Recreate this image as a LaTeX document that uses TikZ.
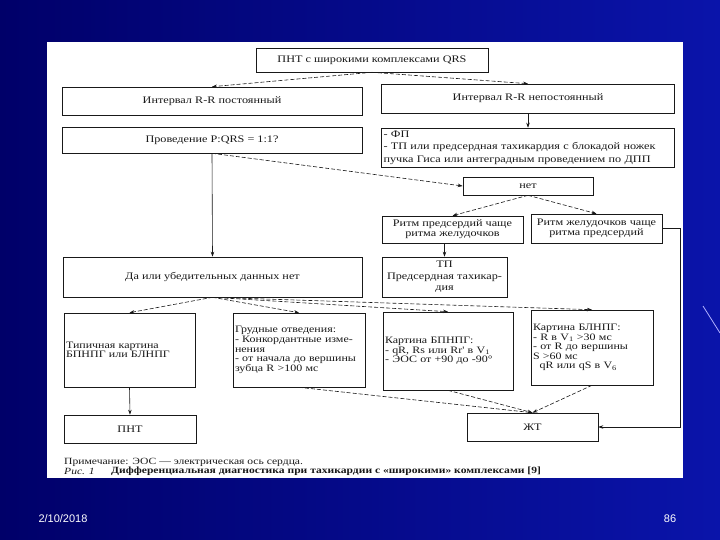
\documentclass[tikz,border=0pt]{standalone}
\usepackage{fontspec}
\setmainfont{Liberation Serif}
\newfontfamily\scanfont[FakeStretch=1.22]{Liberation Serif}
\newfontfamily\footfont{Liberation Sans}
\usetikzlibrary{arrows.meta, calc}

\definecolor{slidedark}{RGB}{0,0,105}
\definecolor{slidelight}{RGB}{10,20,170}
\definecolor{inkgray}{RGB}{25,25,25}

\begin{document}
\begin{tikzpicture}[x=1pt, y=-1pt,
    box/.style={draw=inkgray, line width=0.6pt, inner sep=2pt, text=inkgray,
      align=center, font=\scanfont\fontsize{10}{12.5}\selectfont},
    listbox/.style={box, align=left, font=\scanfont\fontsize{9.8}{9.6}\selectfont},
    dasharrow/.style={draw=inkgray, line width=0.6pt, dash pattern=on 4pt off 2pt,
      -{Stealth[length=5pt, width=3.5pt]}},
    solidarrow/.style={draw=inkgray, line width=0.6pt,
      -{Stealth[length=5pt, width=3.5pt]}},
    caption/.style={anchor=west, inner sep=0pt, text=inkgray,
      font=\scanfont\fontsize{9.5}{11}\selectfont},
    footer/.style={text=white, font=\footfont\fontsize{11}{13}\selectfont}]

      % Slide and scanned sheet
      \useasboundingbox (0,0) rectangle (720,540);
      \fill[left color=slidedark, right color=slidelight] (0,0) rectangle (720,540);
      \draw[blue!30!white, line width=0.8pt] (703,306) -- (720,333);
      \fill[white] (47,42) rectangle (683,478);

      % Boxes
      \node[box, minimum width=232pt, minimum height=24pt] (top) at (372,60)
  {ПНТ с широкими комплексами QRS};
      \node[box, minimum width=300pt, minimum height=28pt] (rrc) at (212,101)
  {Интервал R-R постоянный};
      \node[box, minimum width=293pt, minimum height=29pt] (rrn) at (528,98.5)
  {Интервал R-R непостоянный};
      \node[box, minimum width=300pt, minimum height=26pt] (prov) at (212,140)
  {Проведение P:QRS = 1:1?};
      \node[box, align=left, text width=289pt, minimum height=39pt] (fp) at
  (528,147.5) {- ФП\\- ТП или предсердная тахикардия с блокадой ножек\\пучка
  Гиса или антеградным проведением по ДПП};
      \node[box, minimum width=130pt, minimum height=18pt] (net) at (528,186)
  {нет};
      \node[box, minimum width=141pt, minimum height=27pt,
  font=\scanfont\fontsize{10}{10}\selectfont] (atr) at (452.5,229.5)
  {Ритм предсердий чаще\\ритма желудочков};
      \node[box, minimum width=131pt, minimum height=29pt,
  font=\scanfont\fontsize{10}{10}\selectfont] (vent) at (596.5,228.5)
  {Ритм желудочков чаще\\ритма предсердий};
      \node[box, minimum width=125pt, minimum height=40pt,
  font=\scanfont\fontsize{10}{11.5}\selectfont] (tp) at (444.5,277)
  {ТП\\Предсердная тахикар-\\дия};
      \node[box, minimum width=299pt, minimum height=40pt] (da) at (212.5,277)
  {Да или убедительных данных нет};
      \node[listbox, text width=127pt, minimum height=74pt] (typ) at
  (129.5,350) {Типичная картина\\БПНПГ или БЛНПГ};
      \node[listbox, text width=128pt, minimum height=74pt] (grud) at
  (299,350) {Грудные отведения:\\- Конкордантные изме-\\нения\\- от начала
  до вершины\\зубца R >100 мс};
      \node[listbox, text width=126pt, minimum height=78pt] (bpn) at
  (448,351) {Картина БПНПГ:\\- qR, Rs или Rr' в V\textsubscript{1}\\- ЭОС от
  +90 до -90°};
      \node[listbox, text width=118pt, minimum height=75pt] (bln) at
  (592,347.5) {Картина БЛНПГ:\\- R в V\textsubscript{1} >30 мс\\- от R до
  вершины\\S >60 мс\\\ \ qR или qS в V\textsubscript{6}};
      \node[box, minimum width=132pt, minimum height=28pt] (pnt) at (130,429)
  {ПНТ};
      \node[box, minimum width=131pt, minimum height=28pt] (zht) at
  (532.5,427) {ЖТ};

      % Caption
      \node[caption] (note) at (64,462)
  {Примечание: ЭОС~— электрическая ось сердца.};
      \node[caption] (figno) at (64,471) {\itshape Рис. 1};
      \node[caption] (figtext) at (111,471) {\bfseries Дифференциальная
  диагностика при тахикардии с «широкими» комплексами [9]};

      % Footer
      \node[footer] (date) at (63,519) {2/10/2018};
      \node[footer] (page) at (670,519) {86};

      % Arrows
      \draw[dasharrow] (top.south) -- (rrc.north);
      \draw[dasharrow] (top.south) -- (rrn.north);
      \draw[solidarrow] (rrn.south) -- (fp.north);
      \draw[solidarrow] (prov.south) -- (da.north);
      \draw[dasharrow] (prov.south) -- (net.west);
      \draw[dasharrow] (net.south) -- (atr.north);
      \draw[dasharrow] (net.south) -- (vent.north);
      \draw[solidarrow] (tp.north |- atr.south) -- (tp.north);
      \draw[dasharrow] (da.south) -- (typ.north);
      \draw[dasharrow] (da.south) -- (grud.north);
      \draw[dasharrow] (da.south) -- (bpn.north);
      \draw[dasharrow] (da.south) -- (bln.north);
      \draw[solidarrow] (typ.south) -- (pnt.north);
      \draw[dasharrow] (grud.south) -- (zht.north);
      \draw[dasharrow] (bpn.south) -- (zht.north);
      \draw[dasharrow] (bln.south) -- (zht.north);
      \draw[solidarrow] (vent.east) -- ++(18,0) |- (zht.east);
  \end{tikzpicture}
\end{document}
